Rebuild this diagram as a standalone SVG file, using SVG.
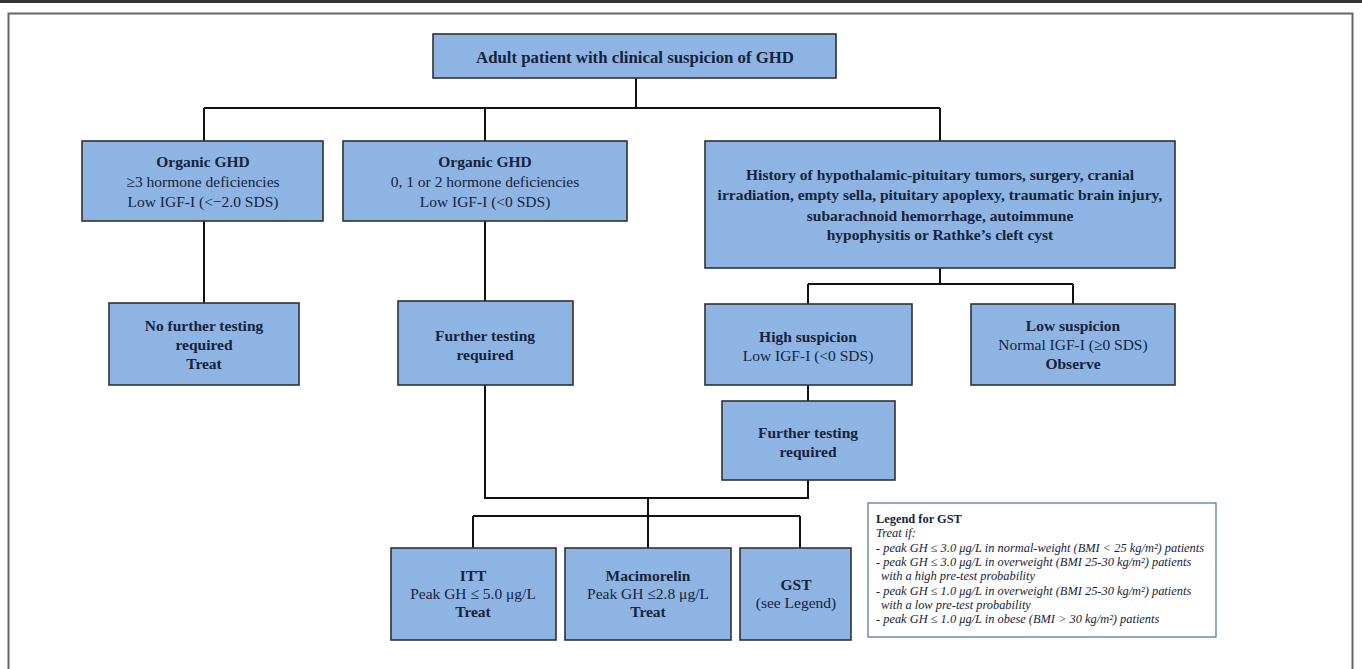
<svg xmlns="http://www.w3.org/2000/svg" width="1362" height="669" viewBox="0 0 1362 669">
<style>
.box{fill:#8db4e2;stroke:#2f3133;stroke-width:1.6}
.t{font-family:"Liberation Serif","Times New Roman",serif;font-size:15.5px;fill:#17233a;text-anchor:middle}
.b{font-weight:bold}
.big{font-size:16.8px}
.ln{stroke:#111;stroke-width:2;fill:none}
.lg{font-family:"Liberation Serif","Times New Roman",serif;font-size:12.4px;fill:#17233a;font-style:italic}
</style>
<rect x="0" y="0" width="1362" height="669" fill="#fff"/>
<rect x="0" y="0" width="1362" height="3" fill="#333"/>
<path d="M8.5 669 V13.5 H1352.5 V669" fill="none" stroke="#666" stroke-width="2"/>
<g id="connectors">
<path class="ln" d="M636 78 V108 M204 108 H940 M204 108 V141 M485 108 V141 M940 108 V141"/>
<path class="ln" d="M204 221 V303 M485 221 V301"/>
<path class="ln" d="M940 268 V284 M808 284 H1073 M808 284 V304 M1073 284 V304"/>
<path class="ln" d="M808 385 V401"/>
<path class="ln" d="M485 385 V498 H808 V480"/>
<path class="ln" d="M648 498 V548 M473 516 H800 M473 516 V548 M800 516 V548"/>
</g>
<g id="n_top"><rect class="box" x="433" y="34" width="403" height="44"/>
<text class="t b big" x="635" y="62.5">Adult patient with clinical suspicion of GHD</text></g>
<g id="n_org3"><rect class="box" x="82" y="141" width="241" height="80"/>
<text class="t" x="203" y="167"><tspan class="b">Organic GHD</tspan><tspan x="203" dy="20">≥3 hormone deficiencies</tspan><tspan x="203" dy="20">Low IGF-I (&lt;−2.0 SDS)</tspan></text></g>
<g id="n_org012"><rect class="box" x="343" y="141" width="284" height="80"/>
<text class="t" x="485" y="167"><tspan class="b">Organic GHD</tspan><tspan x="485" dy="20">0, 1 or 2 hormone deficiencies</tspan><tspan x="485" dy="20">Low IGF-I (&lt;0 SDS)</tspan></text></g>
<g id="n_history"><rect class="box" x="705" y="141" width="470" height="127"/>
<text class="t b" x="940" y="180"><tspan>History of hypothalamic-pituitary tumors, surgery, cranial</tspan><tspan x="940" dy="20.3">irradiation, empty sella, pituitary apoplexy, traumatic brain injury,</tspan><tspan x="940" dy="20.3">subarachnoid hemorrhage, autoimmune</tspan><tspan x="940" dy="19.5">hypophysitis or Rathke’s cleft cyst</tspan></text></g>
<g id="n_nofurther"><rect class="box" x="109" y="303" width="190" height="82"/>
<text class="t b" x="204" y="331"><tspan>No further testing</tspan><tspan x="204" dy="19">required</tspan><tspan x="204" dy="19">Treat</tspan></text></g>
<g id="n_further1"><rect class="box" x="398" y="301" width="175" height="84"/>
<text class="t b" x="485" y="341"><tspan>Further testing</tspan><tspan x="485" dy="18.5">required</tspan></text></g>
<g id="n_high"><rect class="box" x="705" y="304" width="207" height="81"/>
<text class="t" x="808" y="342"><tspan class="b">High suspicion</tspan><tspan x="808" dy="18.5">Low IGF-I (&lt;0 SDS)</tspan></text></g>
<g id="n_low"><rect class="box" x="971" y="304" width="204" height="81"/>
<text class="t" x="1073" y="331"><tspan class="b">Low suspicion</tspan><tspan x="1073" dy="19">Normal IGF-I (≥0 SDS)</tspan><tspan class="b" x="1073" dy="19">Observe</tspan></text></g>
<g id="n_further2"><rect class="box" x="722" y="401" width="173" height="79"/>
<text class="t b" x="808" y="438"><tspan>Further testing</tspan><tspan x="808" dy="18.5">required</tspan></text></g>
<g id="n_itt"><rect class="box" x="391" y="548" width="165" height="92"/>
<text class="t" x="473" y="581"><tspan class="b">ITT</tspan><tspan x="473" dy="18">Peak GH ≤ 5.0 μg/L</tspan><tspan class="b" x="473" dy="18">Treat</tspan></text></g>
<g id="n_maci"><rect class="box" x="565" y="548" width="166" height="92"/>
<text class="t" x="648" y="581"><tspan class="b">Macimorelin</tspan><tspan x="648" dy="18">Peak GH ≤2.8 μg/L</tspan><tspan class="b" x="648" dy="18">Treat</tspan></text></g>
<g id="n_gst"><rect class="box" x="740" y="548" width="111" height="92"/>
<text class="t" x="796" y="590"><tspan class="b">GST</tspan><tspan x="796" dy="18">(see Legend)</tspan></text></g>
<g id="legend"><rect x="868" y="503" width="348" height="134" fill="#fff" stroke="#5d7c99" stroke-width="1.3"/>
<text class="lg" x="876" y="523"><tspan font-weight="bold" font-style="normal">Legend for GST</tspan>
<tspan x="876" dy="14.3">Treat if:</tspan>
<tspan x="876" dy="14.3">- peak GH ≤ 3.0 μg/L in normal-weight (BMI &lt; 25 kg/m²) patients</tspan>
<tspan x="876" dy="14.3">- peak GH ≤ 3.0 μg/L in overweight (BMI 25-30 kg/m²) patients</tspan>
<tspan x="881" dy="14.3">with a high pre-test probability</tspan>
<tspan x="876" dy="14.3">- peak GH ≤ 1.0 μg/L in overweight (BMI 25-30 kg/m²) patients</tspan>
<tspan x="881" dy="14.3">with a low pre-test probability</tspan>
<tspan x="876" dy="14.3">- peak GH ≤ 1.0 μg/L in obese (BMI &gt; 30 kg/m²) patients</tspan></text></g>
</svg>
